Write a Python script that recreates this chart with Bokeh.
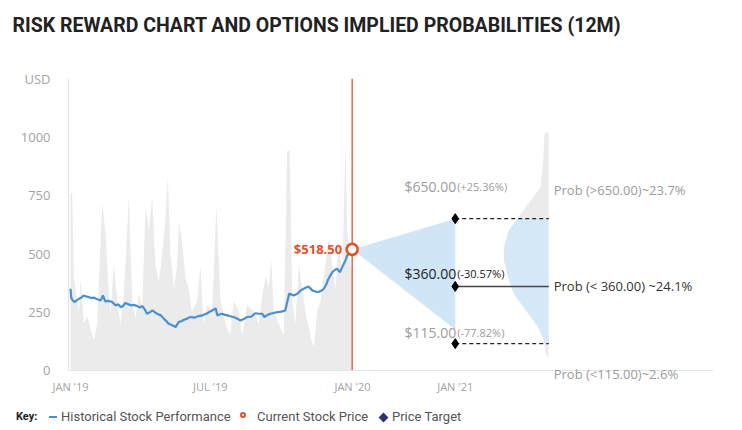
from bokeh.plotting import figure
from bokeh.layouts import column
from bokeh.models import Range1d, FixedTicker, Label, Span, Title, Div
from bokeh.embed import file_html
from bokeh.resources import INLINE

# ---------------- data ----------------
TITLE = "RISK REWARD CHART AND OPTIONS IMPLIED PROBABILITIES (12M)"

tick_days = [0, 181, 365, 498]
tick_labels = ["JAN '19", "JUL '19", "JAN '20", "JAN '21"]
y_ticks = [0, 250, 500, 750, 1000, 1250]

hist_day = [0, 1, 3, 5, 8, 11, 14, 17, 21, 24, 27, 30, 34, 39, 42, 45, 49, 54, 58, 62,
            65, 68, 71, 75, 78, 82, 86, 90, 93, 96, 99, 103, 106, 109, 112, 117, 121, 124, 127, 131,
            136, 140, 144, 147, 151, 155, 160, 166, 171, 177, 182, 188, 190, 193, 196, 200, 203, 207, 211, 216,
            220, 225, 229, 234, 239, 244, 248, 251, 255, 259, 264, 268, 273, 278, 283, 286, 289, 294, 298, 303,
            308, 313, 317, 321, 325, 328, 331, 333, 336, 339, 342, 345, 349, 352, 356, 358, 361, 364.6]
hist_price = [350, 310, 300, 293, 300, 307, 312, 321, 316, 314, 310, 312, 306, 300, 321, 296, 298, 293, 279, 283,
              271, 276, 289, 284, 279, 281, 276, 270, 276, 262, 243, 250, 257, 250, 243, 236, 221, 212, 200, 195,
              186, 207, 212, 217, 222, 229, 226, 233, 236, 245, 255, 266, 236, 240, 243, 238, 236, 232, 229, 222,
              214, 222, 229, 231, 245, 243, 243, 229, 238, 243, 247, 250, 252, 257, 329, 325, 321, 330, 343, 352,
              360, 343, 338, 336, 342, 350, 368, 386, 405, 421, 430, 436, 421, 445, 471, 493, 500, 518.5]

vol_day = [0, 2.2, 4.3, 10.8, 12.9, 17.3, 21.6, 25.9, 30.2, 34.5, 41, 45.3, 48.3, 51.8, 56.1, 60.4, 64.7, 69,
           75.5, 79.8, 84.1, 88.4, 92.8, 97.1, 101.4, 105.7, 110, 114.3, 118.6, 123, 126, 129.4, 133.7, 138,
           140.2, 144.5, 148.8, 153.1, 157.4, 163.9, 168.2, 172.5, 176.9, 183.3, 188.9, 194.1, 200.6, 207,
           211.4, 217.8, 222.2, 228.6, 237.3, 243.8, 248.1, 252.4, 256.7, 259.7, 263.2, 269.6, 276.1, 280.4,
           283.9, 286.9, 291.2, 295.5, 299.9, 304.2, 310.6, 315, 319.3, 323.6, 327.9, 334.4, 338.7, 343,
           347.3, 351.7, 356, 358.1, 362.4, 364.6]
vol_value = [760, 760, 400, 250, 390, 200, 230, 180, 130, 200, 720, 590, 400, 250, 460, 300, 200, 320,
             745, 300, 220, 330, 270, 700, 600, 745, 450, 380, 500, 650, 830, 500, 350, 450,
             640, 550, 400, 350, 250, 300, 450, 200, 280, 250, 710, 300, 200, 150,
             300, 250, 150, 280, 250, 200, 320, 400, 360, 480, 250, 200, 150, 940,
             940, 300, 200, 460, 350, 250, 150, 100, 250, 300, 400, 570, 450, 350,
             560, 400, 980, 600, 450, 420]

current_price = 518.5
target_prices = [650.0, 360.0, 115.0]
target_price_text = ["$650.00", "$360.00", "$115.00"]
target_pct_text = ["(+25.36%)", "(-30.57%)", "(-77.82%)"]
prob_text = ["Prob (>650.00)~23.7%", "Prob (< 360.00) ~24.1%", "Prob (<115.00)~2.6%"]
cone_high = 650.0
cone_low = 175.0

dist_price = [56, 73, 115, 129, 186, 257, 329, 400, 471, 529, 600, 650, 657, 700, 786, 900, 1000, 1015, 1021]
dist_density = [0.0, 0.07, 0.10, 0.11, 0.24, 0.51, 0.78, 0.91, 1.0, 1.0, 0.89, 0.70, 0.67, 0.51, 0.18, 0.12, 0.10, 0.09, 0.0]

key_title = "Key:"
key_labels = ["Historical Stock Performance", "Current Stock Price", "Price Target"]

# ---------------- layout constants ----------------
CURRENT_DAY = 364.6
TARGET_DAY = 498
DIST_X = 619
DIST_W = 58

RED = "#e2522b"
BLUE = "#4a90d0"
LIGHT_BLUE = "#d4e8f7"
GRAY_AREA = "#ebebeb"
GRAY_TXT = "#9c9c9c"
AXIS_COL = "#dfe3ea"
NAVY = "#2d3170"
FONT = "Open Sans"

# ---------------- main chart ----------------
p = figure(width=742, height=396, output_backend="svg", toolbar_location=None,
           x_range=Range1d(-2.6, 832.3), y_range=Range1d(-68.5, 1250),
           min_border_left=68, min_border_right=29, min_border_top=78, min_border_bottom=10)
p.grid.visible = False
p.outline_line_color = None

# title (spacer title keeps the real title near the top edge)
p.add_layout(Title(text=" ", text_font_size="1px", standoff=39), "above")
p.add_layout(Title(text=TITLE, align="left", offset=-56, standoff=0, vertical_align="bottom",
                   text_font="Roboto", text_font_size="19.5px", text_font_style="bold",
                   text_color="#222222"), "above")

# axes
xa = p.xaxis[0]
ya = p.yaxis[0]
for ax in (xa, ya):
    ax.major_tick_line_color = None
    ax.minor_tick_line_color = None
    ax.major_label_text_color = "#a3a3a3"
    ax.major_label_text_font = FONT
xa.axis_line_color = None
xa.ticker = FixedTicker(ticks=tick_days)
xa.major_label_overrides = {d: l for d, l in zip(tick_days, tick_labels)}
xa.major_label_text_font_size = "11px"
xa.major_label_standoff = -14
ya.axis_line_color = AXIS_COL
ya.axis_line_width = 1.2
ya.ticker = FixedTicker(ticks=y_ticks)
ya.major_label_overrides = {1250: "USD"}
ya.major_label_text_font_size = "13px"
ya.major_label_standoff = 12
ya.bounds = (0, 1250)
p.add_layout(Span(location=0, dimension="width", line_color=AXIS_COL, line_width=1.2))

# background daily series
p.varea(x=vol_day, y1=[0] * len(vol_day), y2=vol_value, color=GRAY_AREA)

# cone
p.patch(x=[CURRENT_DAY, TARGET_DAY, TARGET_DAY], y=[current_price, cone_high, cone_low],
        color="#d0e5f6", line_color=None)

# distribution (half violin)
def seg(lo, hi):
    ys, ds = [], []
    for pr, d in zip(dist_price, dist_density):
        if lo <= pr <= hi:
            ys.append(pr)
            ds.append(d)
    x1 = [DIST_X - DIST_W * d for d in ds]
    return x1, ys

x1, ys = seg(650, 2000)
p.harea(x1=x1, x2=[DIST_X] * len(ys), y=ys, color=GRAY_AREA)
x1, ys = seg(0, 115)
p.harea(x1=x1, x2=[DIST_X] * len(ys), y=ys, color=GRAY_AREA)
x1, ys = seg(115, 650)
p.harea(x1=x1, x2=[DIST_X] * len(ys), y=ys, color=LIGHT_BLUE)

# current date line
p.segment(x0=[CURRENT_DAY], y0=[0], x1=[CURRENT_DAY], y1=[1250], line_color=RED, line_width=1.3)

# history line
p.line(hist_day, hist_price, line_color=BLUE, line_width=2.2)

# target lines
p.segment(x0=[TARGET_DAY], y0=[target_prices[0]], x1=[DIST_X], y1=[target_prices[0]],
          line_color="#222", line_width=1.2, line_dash="4 3")
p.segment(x0=[TARGET_DAY], y0=[target_prices[2]], x1=[DIST_X], y1=[target_prices[2]],
          line_color="#222", line_width=1.2, line_dash="4 3")
p.segment(x0=[TARGET_DAY], y0=[target_prices[1]], x1=[DIST_X], y1=[target_prices[1]],
          line_color="#444", line_width=1.5)
p.scatter([TARGET_DAY] * 3, target_prices, marker="diamond", size=10, color="black")

p.scatter([CURRENT_DAY], [current_price], marker="circle", size=11, fill_color="white",
          line_color=RED, line_width=2.6)

# labels
p.add_layout(Label(x=CURRENT_DAY, y=current_price, x_offset=-10, text="$518.50", text_align="right",
                   text_baseline="middle", text_font=FONT, text_font_size="13px", text_font_style="bold",
                   text_color=RED))

offs = [32, 13, 11]
cols = [GRAY_TXT, "#222222", GRAY_TXT]
for pr, t1, t2, off, c in zip(target_prices, target_price_text, target_pct_text, offs, cols):
    p.add_layout(Label(x=TARGET_DAY, y=pr, y_offset=off, x_offset=1, text=t1, text_align="right",
                       text_baseline="alphabetic", text_font=FONT, text_font_size="14px", text_color=c))
    p.add_layout(Label(x=TARGET_DAY, y=pr, y_offset=off, x_offset=2, text=t2, text_align="left",
                       text_baseline="alphabetic", text_font=FONT, text_font_size="11px", text_color=c))

prob_offs = [29, 0, -30]
for pr, tx, off, c in zip(target_prices, prob_text, prob_offs, cols):
    p.add_layout(Label(x=DIST_X, y=pr, x_offset=5, y_offset=off, text=tx, text_align="left",
                       text_baseline="middle", text_font=FONT, text_font_size="13px",
                       text_color=("#333333" if c != GRAY_TXT else GRAY_TXT)))

# ---------------- key ----------------
txt = "position:absolute;top:14px;line-height:14px;white-space:nowrap;"
key_html = (
    '<div style="position:relative;width:742px;height:34px;font-family:Roboto,sans-serif;">'
    f'<span style="{txt}left:16px;font-size:11px;font-weight:bold;color:#222;">{key_title}</span>'
    f'<span style="position:absolute;left:49px;top:20px;width:8px;height:2px;background:{BLUE};"></span>'
    f'<span style="{txt}left:61px;font-size:13px;color:#555;">{key_labels[0]}</span>'
    f'<span style="position:absolute;left:239.5px;top:15.5px;width:6px;height:6px;border:2.5px solid {RED};'
    'border-radius:50%;"></span>'
    f'<span style="{txt}left:257px;font-size:13px;color:#555;">{key_labels[1]}</span>'
    f'<span style="position:absolute;left:379.5px;top:17.5px;width:7px;height:7px;background:{NAVY};'
    'transform:rotate(45deg);"></span>'
    f'<span style="{txt}left:392px;font-size:13px;color:#555;">{key_labels[2]}</span>'
    '</div>'
)
key = Div(text=key_html, width=742, height=34, margin=0)

open("out.html", "w").write(file_html(column(p, key, spacing=0), INLINE))
